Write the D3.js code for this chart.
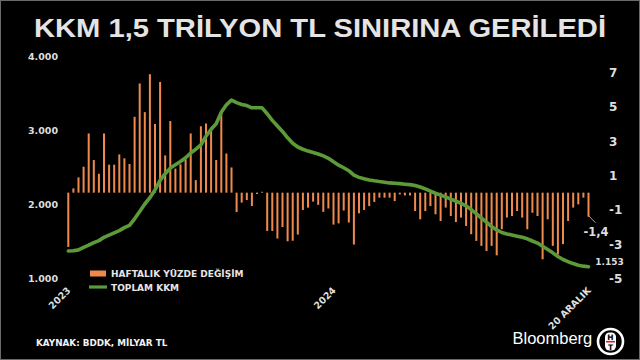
<!DOCTYPE html>
<html>
<head>
<meta charset="utf-8">
<script src="https://cdn.jsdelivr.net/npm/d3@7"></script>
<style>
  html, body { margin: 0; padding: 0; background: #000; }
  svg { display: block; }
</style>
</head>
<body>
<svg id="chart" width="640" height="360"></svg>
<script>
// ---- DATA ----
const titleText = "KKM 1,5 TRİLYON TL SINIRINA GERİLEDİ";
const sourceText = "KAYNAK: BDDK, MİLYAR TL";
const legendLabels = ["HAFTALIK YÜZDE DEĞİŞİM", "TOPLAM KKM"];

// weekly % change (right axis), 6 Jan 2023 ... 20 Dec 2024
const weeklyChange = [
  -3.16, 0.25, 0.89, 1.51, 3.45, 1.9, 1.1, 3.45, 1.63, 1.63,
  2.23, 2.0, 1.67, 4.42, 6.36, 4.69, 6.9, 4.0, 6.45, 2.17,
  4.17, 1.4, 1.65, 1.94, 3.45, 0.73, 3.87, 4.03, 3.72, 1.9,
  4.65, 2.28, 1.47, -1.13, -0.58, -0.43, -0.78, -0.08, 0.05, -2.23,
  -2.23, -2.67, -2.0, -2.83, -2.8, -2.44, -1.01, -0.87, -0.52, -0.71,
  -1.12, -0.92, -1.86, -1.79, -1.04, -1.74, -3.02, -1.2, -1.01, -0.78,
  -0.54, -0.29, -0.29, -0.29, -0.49, -0.1, -0.16, -0.16, -1.07, -1.55,
  -1.07, -0.78, -1.26, -1.65, -0.87, -1.36, -1.71, -1.45, -1.94, -2.42,
  -2.81, -3.1, -3.4, -3.1, -3.65, -2.13, -1.45, -1.36, -1.07, -1.45,
  -2.13, -1.17, -1.36, -3.88, -1.55, -3.1, -3.6, -3.0, -1.65, -0.87,
  -0.68, -0.29, -1.4
];

// total KKM, billion TL (left axis)
const totalKKM = [
  1365, 1368, 1380, 1415, 1445, 1478, 1505, 1550, 1580, 1610,
  1640, 1680, 1712, 1800, 1900, 2000, 2085, 2190, 2320, 2410,
  2485, 2530, 2575, 2625, 2690, 2740, 2800, 2915, 3010, 3085,
  3240, 3340, 3405, 3370, 3345, 3330, 3300, 3300, 3300, 3220,
  3130, 3055, 2980, 2895, 2820, 2770, 2740, 2715, 2695, 2676,
  2650, 2618, 2570, 2525, 2490, 2450, 2390, 2360, 2340, 2325,
  2313, 2303, 2295, 2285, 2280, 2275, 2268, 2262, 2250, 2230,
  2205, 2175, 2145, 2120, 2095, 2065, 2040, 2010, 1975, 1925,
  1870, 1810, 1755, 1695, 1650, 1615, 1595, 1580, 1565, 1550,
  1530, 1500, 1472, 1430, 1385, 1340, 1290, 1250, 1220, 1195,
  1172, 1160, 1153
];

const leftTicks = [1000, 2000, 3000, 4000];
const rightTicks = [-5, -3, -1, 1, 3, 5, 7];
const xTickIndex = [0, 52, 102];
const xTickLabels = ["2023", "2024", "20 ARALIK"];
const lastChangeLabel = "-1,4";
const lastTotalLabel = "1.153";

// ---- DRAW ----
const svg = d3.select("#chart");
const W = 640, H = 360;

svg.append("rect").attr("width", W).attr("height", H).attr("fill", "#000");
svg.append("rect").attr("x", 0.5).attr("y", 0.5).attr("width", W - 1).attr("height", H - 1)
  .attr("fill", "none").attr("stroke", "#6a6a6a").attr("stroke-width", 1);

// title
svg.append("text")
  .attr("x", 320).attr("y", 36.5)
  .attr("text-anchor", "middle")
  .attr("font-family", "Liberation Sans, Arial, sans-serif")
  .attr("font-weight", "bold")
  .attr("font-size", 26)
  .attr("textLength", 572)
  .attr("lengthAdjust", "spacingAndGlyphs")
  .attr("fill", "#e4e4e4")
  .text(titleText);

const idx = d3.range(weeklyChange.length);
const x = d3.scalePoint().domain(idx).range([68.3, 588.5]);
const yL = d3.scaleLinear().domain([1000, 4000]).range([278, 56]);
const yR = d3.scaleLinear().domain([-5, 7]).range([278.5, 72.5]);

const loc = d3.formatLocale({decimal: ",", thousands: ".", grouping: [3], currency: ["", ""], minus: "-"});
const fmtL = loc.format(",.0f");
const fmtR = loc.format("d");

// left axis
const gL = svg.append("g").attr("transform", "translate(62,0)")
  .call(d3.axisLeft(yL).tickValues(leftTicks).tickSize(0).tickPadding(4).tickFormat(fmtL));
gL.select(".domain").remove();
gL.selectAll("text")
  .attr("font-family", "DejaVu Sans, sans-serif").attr("font-weight", "bold")
  .attr("font-size", 9.5).attr("fill", "#dedede");

// right axis
const gR = svg.append("g").attr("transform", "translate(605,0)")
  .call(d3.axisRight(yR).tickValues(rightTicks).tickSize(0).tickPadding(4).tickFormat(fmtR));
gR.select(".domain").remove();
gR.selectAll("text")
  .attr("font-family", "DejaVu Sans, sans-serif").attr("font-weight", "bold")
  .attr("font-size", 12).attr("fill", "#dedede");

// bars
const barW = 2;
svg.append("g").selectAll("rect").data(weeklyChange).join("rect")
  .attr("x", (d, i) => x(i) - barW / 2)
  .attr("width", barW)
  .attr("y", d => Math.min(yR(d), yR(0)))
  .attr("height", d => Math.max(0.8, Math.abs(yR(d) - yR(0))))
  .attr("fill", "#ef8a4c");

// line
const line = d3.line().x((d, i) => x(i)).y(d => yL(d));
svg.append("path").datum(totalKKM)
  .attr("d", line)
  .attr("fill", "none")
  .attr("stroke", "#5c9a3a")
  .attr("stroke-width", 3.6)
  .attr("stroke-linejoin", "round")
  .attr("stroke-linecap", "round");

// x labels (rotated)
xTickIndex.forEach((ti, k) => {
  svg.append("text")
    .attr("transform", `translate(${x(ti) + 3},${291}) rotate(-45)`)
    .attr("text-anchor", "end")
    .attr("font-family", "DejaVu Sans, sans-serif").attr("font-weight", "bold")
    .attr("font-size", 9.5).attr("fill", "#dedede")
    .text(xTickLabels[k]);
});

// end labels
const lastI = weeklyChange.length - 1;
svg.append("line")
  .attr("x1", x(lastI)).attr("y1", yR(weeklyChange[lastI]) - 1)
  .attr("x2", x(lastI) + 7).attr("y2", yR(weeklyChange[lastI]) + 6)
  .attr("stroke", "#cfcfcf").attr("stroke-width", 0.8);
svg.append("text")
  .attr("x", 596).attr("y", 235.5)
  .attr("text-anchor", "middle")
  .attr("font-family", "DejaVu Sans, sans-serif").attr("font-weight", "bold")
  .attr("font-size", 11.5).attr("fill", "#dedede")
  .text(lastChangeLabel);
svg.append("text")
  .attr("x", 609.5).attr("y", 265)
  .attr("text-anchor", "middle")
  .attr("font-family", "DejaVu Sans, sans-serif").attr("font-weight", "bold")
  .attr("font-size", 9).attr("fill", "#dedede")
  .text(lastTotalLabel);

// legend
const lg = svg.append("g");
lg.append("rect").attr("x", 90).attr("y", 270.5).attr("width", 16).attr("height", 6).attr("fill", "#ef8a4c");
lg.append("line").attr("x1", 89).attr("x2", 107).attr("y1", 287).attr("y2", 287)
  .attr("stroke", "#5c9a3a").attr("stroke-width", 3.2);
legendLabels.forEach((t, k) => {
  lg.append("text")
    .attr("x", 111).attr("y", 277 + k * 13.5)
    .attr("font-family", "DejaVu Sans, sans-serif").attr("font-weight", "bold")
    .attr("font-size", 9).attr("fill", "#e6e6e6")
    .text(t);
});

// source
svg.append("text")
  .attr("x", 36).attr("y", 346)
  .attr("font-family", "DejaVu Sans, sans-serif").attr("font-weight", "bold")
  .attr("font-size", 8.8).attr("fill", "#f2f2f2")
  .text(sourceText);

// Bloomberg HT logo
svg.append("text")
  .attr("x", 512.5).attr("y", 343.5)
  .attr("font-family", "Liberation Sans, Arial, sans-serif")
  .attr("font-size", 16.5).attr("fill", "#ffffff")
  .text("Bloomberg");
const logo = svg.append("g").attr("transform", "translate(610.5,341.5)");
logo.append("circle").attr("r", 12.5).attr("fill", "#000").attr("stroke", "#fff").attr("stroke-width", 2.6);
logo.append("rect").attr("x", -5.5).attr("y", -9).attr("width", 11).attr("height", 18).attr("rx", 4.5)
  .attr("fill", "#fff");
logo.append("text").attr("x", 0).attr("y", -1.5).attr("text-anchor", "middle")
  .attr("font-family", "DejaVu Sans, sans-serif").attr("font-weight", "bold").attr("font-size", 7.5)
  .attr("fill", "#000").text("H");
logo.append("rect").attr("x", -4.5).attr("y", -0.6).attr("width", 9).attr("height", 1.6).attr("fill", "#d0202a");
logo.append("text").attr("x", 0).attr("y", 8).attr("text-anchor", "middle")
  .attr("font-family", "DejaVu Sans, sans-serif").attr("font-weight", "bold").attr("font-size", 7.5)
  .attr("fill", "#000").text("T");
</script>
</body>
</html>
